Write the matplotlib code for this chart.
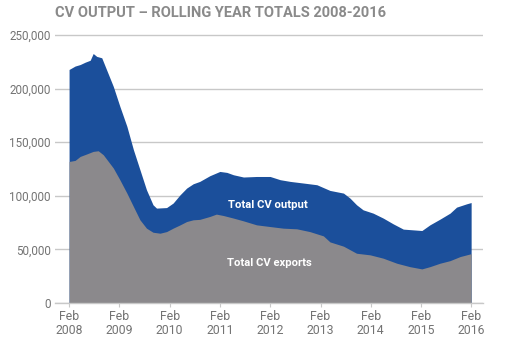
import matplotlib
matplotlib.use("Agg")
import matplotlib.pyplot as plt

# Total CV output (rolling year), decimal year
output_dates = [2008.08, 2008.20, 2008.30, 2008.40, 2008.50, 2008.56, 2008.63, 2008.73,
                2008.96, 2009.09, 2009.23, 2009.36, 2009.49, 2009.62, 2009.75, 2009.82,
                2010.02, 2010.15, 2010.29, 2010.42, 2010.55, 2010.68, 2010.88, 2011.08,
                2011.22, 2011.35, 2011.55, 2011.81, 2012.08, 2012.28, 2012.48, 2012.74,
                2013.01, 2013.27, 2013.54, 2013.67, 2013.80, 2013.93, 2014.13, 2014.33,
                2014.53, 2014.73, 2014.93, 2015.10, 2015.26, 2015.46, 2015.66, 2015.79,
                2015.99, 2016.08]
output_vals = [217800, 221000, 222400, 224600, 226400, 232700, 230000, 228700,
               202000, 183500, 164800, 143000, 124300, 105600, 91600, 88500,
               89000, 93200, 101000, 107200, 111200, 113400, 118700, 122700,
               121800, 119600, 117500, 118000, 118000, 115000, 113400, 111900,
               110300, 105000, 102500, 97800, 91600, 86900, 83800, 79200,
               73800, 68900, 68200, 67600, 72900, 78200, 83800, 89400,
               92500, 93700]

# Total CV exports (rolling year)
export_dates = [2008.08, 2008.20, 2008.30, 2008.43, 2008.56, 2008.66, 2008.76, 2008.96,
                2009.09, 2009.23, 2009.36, 2009.49, 2009.62, 2009.75, 2009.89, 2010.02,
                2010.15, 2010.29, 2010.42, 2010.55, 2010.68, 2010.88, 2011.01, 2011.15,
                2011.35, 2011.55, 2011.81, 2012.08, 2012.34, 2012.61, 2012.87, 2013.14,
                2013.27, 2013.54, 2013.80, 2014.07, 2014.33, 2014.60, 2014.86, 2015.10,
                2015.26, 2015.46, 2015.66, 2015.86, 2016.08]
export_vals = [132000, 133000, 136700, 139000, 141400, 142000, 138300, 125900,
               115000, 102500, 90000, 77600, 69800, 66000, 65100, 66600,
               69800, 72900, 76000, 77600, 78000, 80700, 82900, 81600,
               79200, 76600, 72900, 71300, 69800, 69200, 66600, 62600,
               57000, 53000, 46400, 44900, 41800, 37100, 33900, 31800,
               33900, 37100, 39500, 43300, 46000]

y_ticks = [0, 50000, 100000, 150000, 200000, 250000]
y_tick_labels = ["0", "50,000", "100,000", "150,000", "200,000", "250,000"]
x_ticks = [2008.083 + i for i in range(9)]
x_tick_labels = [f"Feb\n{2008 + i}" for i in range(9)]

title = "CV OUTPUT \u2013 ROLLING YEAR TOTALS 2008-2016"

BLUE = "#1b4f9b"
GREY = "#8b898c"
TXT = "#737373"
GRID = "#c8c8c8"
FONT = ["Roboto", "DejaVu Sans"]

fig = plt.figure(figsize=(5.10, 3.49), dpi=100)
ax = fig.add_axes([55 / 510, 1 - 303 / 349, (483 - 55) / 510, (303 - 29.6) / 349])
renderer = fig.canvas.get_renderer()


def fit(t, target_px):
    w = t.get_window_extent(renderer).width
    t.set_fontsize(t.get_fontsize() * target_px / w)


ax.fill_between(output_dates, output_vals, 0, color=BLUE, lw=0, zorder=2)
ax.fill_between(export_dates, export_vals, 0, color=GREY, lw=0, zorder=3)

ax.set_xlim(2007.80, 2016.316)
ax.set_ylim(0, 255000)

ax.set_yticks(y_ticks)
ax.set_yticklabels(y_tick_labels, family=FONT, fontsize=8.5, color=TXT)
ax.set_xticks(x_ticks)

ax.yaxis.grid(True, color=GRID, lw=1.0, zorder=1)
ax.set_axisbelow(True)
ax.tick_params(axis="y", length=0, pad=3)
ax.tick_params(axis="x", length=3, width=0.8, color=GRID, pad=2)

for s in ["top", "right", "left"]:
    ax.spines[s].set_visible(False)
ax.spines["bottom"].set_color(GRID)
ax.spines["bottom"].set_linewidth(1.0)
ax.spines["bottom"].set_zorder(4)

t1 = ax.text(2012.03, 91500, "Total CV output", family=FONT, fontsize=8.5,
             fontweight="bold", color="white", ha="center", va="center", zorder=5)
t2 = ax.text(2012.07, 37500, "Total CV exports", family=FONT, fontsize=8.5,
             fontweight="bold", color="white", ha="center", va="center", zorder=5)
tt = fig.text(55 / 510, 1 - 13 / 349, title, family=FONT, fontsize=11.5,
              fontweight="bold", color="#8a8a8a", ha="left", va="center")

fit(t1, 79)
fit(t2, 84)
fit(tt, 331)

# fit tick labels to reference widths
lab = ax.get_yticklabels()[-1]
w = lab.get_window_extent(renderer).width
ysize = 8.5 * 41 / w
ax.set_yticklabels(y_tick_labels, family=FONT, fontsize=ysize, color=TXT)
ax.set_xticklabels(x_tick_labels, family=FONT, fontsize=ysize * 1.05, color=TXT,
                   linespacing=1.15)

fig.savefig("out.png", dpi=100, facecolor="white")
